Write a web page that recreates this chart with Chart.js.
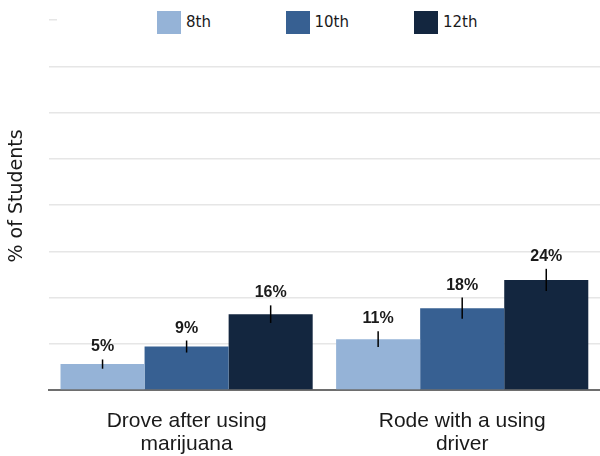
<!DOCTYPE html>
<html>
<head>
<meta charset="utf-8">
<script src="https://cdn.jsdelivr.net/npm/chart.js@4"></script>
<style>
    html, body { margin: 0; padding: 0; background: #fff; }
    #wrap { position: relative; width: 600px; height: 456px; }
    #legend {
        position: absolute; left: 57px; top: 5px; width: 543px; height: 34px;
        background: #fff; display: flex; align-items: center; padding-left: 100px;
        box-sizing: border-box; z-index: 2;
    }
    .item { display: flex; align-items: center; width: 128.5px; font: 15px "DejaVu Sans", sans-serif; color: #1a1a1a; }
    .swatch { width: 24px; height: 23px; margin-right: 5px; }
</style>
</head>
<body>
<div id="wrap">
    <div id="legend"></div>
    <canvas id="chart"></canvas>
</div>
<script>
// categories and series (percent of students)
const categories = [['Drove after using', 'marijuana'], ['Rode with a using', 'driver']];
const grades = ['8th', '10th', '12th'];
const grade8 = [5.6, 11.0];
const grade10 = [9.4, 17.7];
const grade12 = [16.4, 23.8];
// half-width of the error bars
const err8 = [1.0, 1.7];
const err10 = [1.3, 2.3];
const err12 = [1.9, 2.4];
// printed value labels
const labels8 = ['5%', '11%'];
const labels10 = ['9%', '18%'];
const labels12 = ['16%', '24%'];
const colors = ['#95b3d7', '#376092', '#13263f'];

const series = [grade8, grade10, grade12];
const errors = [err8, err10, err12];
const valueLabels = [labels8, labels10, labels12];

// error bars + value labels above each bar
const barExtras = {
    id: 'barExtras',
    afterDatasetsDraw(chart) {
        const ctx = chart.ctx;
        const y = chart.scales.y;
        ctx.save();
        chart.data.datasets.forEach((ds, di) => {
            const meta = chart.getDatasetMeta(di);
            meta.data.forEach((bar, i) => {
                const v = ds.data[i];
                const e = errors[di][i];
                const top = y.getPixelForValue(v + e);
                const bottom = y.getPixelForValue(v - e);
                ctx.strokeStyle = '#000';
                ctx.lineWidth = 1.5;
                ctx.beginPath();
                ctx.moveTo(bar.x, top);
                ctx.lineTo(bar.x, bottom);
                ctx.stroke();

                ctx.fillStyle = '#1a1a1a';
                ctx.font = 'bold 16px "Liberation Sans", Arial, sans-serif';
                ctx.textAlign = 'center';
                ctx.textBaseline = 'alphabetic';
                ctx.fillText(valueLabels[di][i], bar.x, top - 8);
            });
        });
        ctx.restore();
    }
};

const chart = new Chart(document.getElementById('chart'), {
    type: 'bar',
    data: {
        labels: categories,
        datasets: grades.map((g, i) => ({
            label: g,
            data: series[i],
            backgroundColor: colors[i],
            borderWidth: 0,
            categoryPercentage: 0.915,
            barPercentage: 1.0
        }))
    },
    options: {
        responsive: true,
        maintainAspectRatio: false,
        animation: false,
        // tick padding is counted twice in the axis height, so pull the bottom back
        layout: { padding: { top: 20, right: 0, bottom: -20, left: 0 } },
        plugins: {
            legend: { display: false },
            tooltip: { enabled: false }
        },
        scales: {
            x: {
                grid: { display: false, drawTicks: false },
                border: { display: true, color: '#6e6e6e', width: 2 },
                ticks: {
                    padding: 20,
                    color: '#1a1a1a',
                    font: { family: '"Liberation Sans", Arial, sans-serif', size: 21, lineHeight: '23px' },
                    maxRotation: 0,
                    autoSkip: false
                }
            },
            y: {
                min: 0,
                max: 80,
                grid: { color: '#e6e6e6', lineWidth: 1.5, drawTicks: false },
                border: { display: false },
                ticks: { display: false, stepSize: 10 },
                title: {
                    display: true,
                    text: '\u00a0\u00a0\u00a0% of Students',
                    color: '#1a1a1a',
                    font: { family: '"DejaVu Sans", sans-serif', size: 19, lineHeight: 1.2 },
                    padding: { top: 6, bottom: 20 }
                }
            }
        }
    },
    plugins: [barExtras]
});

// html legend built from the datasets
const legendEl = document.getElementById('legend');
chart.data.datasets.forEach(ds => {
    const item = document.createElement('div');
    item.className = 'item';
    const sw = document.createElement('span');
    sw.className = 'swatch';
    sw.style.background = ds.backgroundColor;
    const txt = document.createElement('span');
    txt.textContent = ds.label;
    item.appendChild(sw);
    item.appendChild(txt);
    legendEl.appendChild(item);
});
</script>
</body>
</html>
